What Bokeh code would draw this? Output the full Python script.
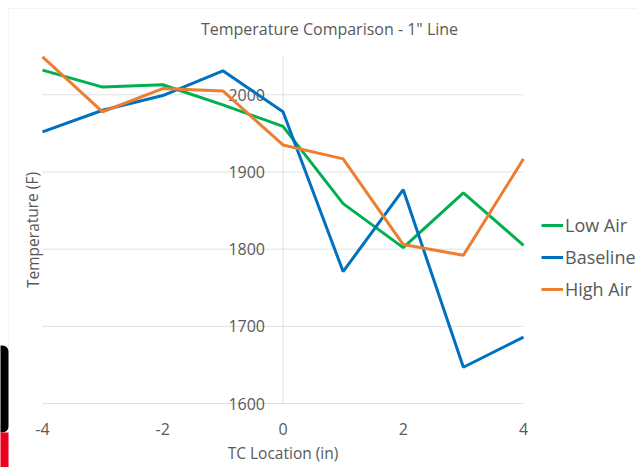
from bokeh.plotting import figure
from bokeh.models import Range1d, Label, Legend, LegendItem, BoxAnnotation
from bokeh.embed import file_html
from bokeh.resources import INLINE
from bokeh.core.properties import value

# Thermocouple positions (in) and measured temperatures (F)
tc_location = [-4, -3, -2, -1, 0, 1, 2, 3, 4]
low_air = [2032, 2010, 2013, 1987, 1959, 1859, 1802, 1873, 1805]
baseline = [1952, 1980, 1999, 2031, 1978, 1771, 1877, 1647, 1686]
high_air = [2049, 1978, 2008, 2005, 1935, 1917, 1806, 1792, 1917]

x_ticks = [-4, -2, 0, 2, 4]
x_tick_labels = ["-4", "-2", "0", "2", "4"]
y_ticks = [1600, 1700, 1800, 1900, 2000]
y_tick_labels = ["1600", "1700", "1800", "1900", "2000"]
y_top = 2050

FONT = "Open Sans"
TEXT = "#595959"
GRID = "#e0e0e0"

W, H = 637, 467
# plot area in page pixels: x -4..4 -> 42..523, y 1600..2050 -> 403..56
PX_L, PX_R, PY_B, PY_T = 42, 523, 403, 55.7
sx = (PX_R - PX_L) / (x_ticks[-1] - x_ticks[0])
sy = (PY_B - PY_T) / (y_top - y_ticks[0])
x_range = Range1d(x_ticks[0] - PX_L / sx, x_ticks[-1] + (W - PX_R) / sx)
y_range = Range1d(y_ticks[0] - (H - PY_B) / sy, y_top + PY_T / sy)

# the frame fills the page; axes, ticks and labels are drawn as glyphs
p = figure(width=W, height=H, output_backend="svg", toolbar_location=None,
           x_range=x_range, y_range=y_range,
           x_axis_location=None, y_axis_location=None,
           min_border=0)
p.outline_line_color = None
p.grid.visible = False
p.background_fill_color = "white"
p.border_fill_color = "white"

# chart area frame and the neighbouring slide edge
p.add_layout(BoxAnnotation(left=8, right=W + 50, top=H - 8, bottom=-50,
                           left_units="screen", right_units="screen",
                           top_units="screen", bottom_units="screen",
                           fill_alpha=0, line_color="#d9d9d9", line_width=1))
p.add_layout(BoxAnnotation(left=-5, right=8, top=H - 345, bottom=H - 432,
                           left_units="screen", right_units="screen",
                           top_units="screen", bottom_units="screen",
                           fill_color="black", fill_alpha=1, line_color=None,
                           border_radius=6))
p.add_layout(BoxAnnotation(left=-5, right=8, top=H - 432, bottom=-10,
                           left_units="screen", right_units="screen",
                           top_units="screen", bottom_units="screen",
                           fill_color="#e8001c", fill_alpha=1, line_color=None))

# horizontal gridlines and the vertical axis line at x = 0
n = len(y_ticks)
p.segment(x0=[x_ticks[0]] * n, x1=[x_ticks[-1]] * n, y0=y_ticks, y1=y_ticks,
          line_color=GRID, line_width=1)
p.segment(x0=[0], x1=[0], y0=[y_ticks[0]], y1=[y_top], line_color=GRID, line_width=1)

# tick labels
p.text(x=[0] * n, y=y_ticks, text=y_tick_labels, x_offset=-18,
       text_align="right", text_baseline="middle", text_font=value(FONT),
       text_font_size="16px", text_color=TEXT)
p.text(x=x_ticks, y=[y_ticks[0]] * len(x_ticks), text=x_tick_labels, y_offset=25,
       text_align="center", text_baseline="middle", text_font=value(FONT),
       text_font_size="16px", text_color=TEXT)

r_low = p.line(tc_location, low_air, line_color="#00b050", line_width=3)
r_base = p.line(tc_location, baseline, line_color="#0070c0", line_width=3)
r_high = p.line(tc_location, high_air, line_color="#ed7d31", line_width=3)

p.add_layout(Label(x=329, y=H - 28, x_units="screen", y_units="screen",
                   text='Temperature Comparison - 1" Line', text_align="center",
                   text_baseline="middle", text_font=FONT, text_font_size="16px",
                   text_color=TEXT))
p.add_layout(Label(x=32, y=H - 229.5, x_units="screen", y_units="screen",
                   text="Temperature (F)", angle=1.5708, text_align="center",
                   text_baseline="middle", text_font=FONT, text_font_size="15.5px",
                   text_color=TEXT))
p.add_layout(Label(x=282.5, y=H - 452, x_units="screen", y_units="screen",
                   text="TC Location (in)", text_align="center",
                   text_baseline="middle", text_font=FONT, text_font_size="15.5px",
                   text_color=TEXT))

legend = Legend(items=[LegendItem(label="Low Air", renderers=[r_low]),
                       LegendItem(label="Baseline", renderers=[r_base]),
                       LegendItem(label="High Air", renderers=[r_high])],
                location=(541, H - 300.5), padding=0, margin=0, spacing=8,
                glyph_width=22, glyph_height=20, label_height=20,
                label_standoff=2, label_text_font=FONT,
                label_text_font_size="18px", label_text_color=TEXT,
                border_line_color=None, background_fill_alpha=0)
p.add_layout(legend)

open("out.html", "w").write(file_html(p, INLINE))
